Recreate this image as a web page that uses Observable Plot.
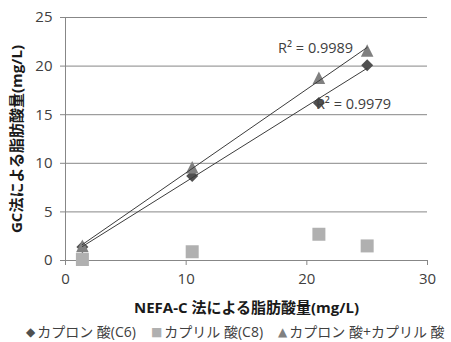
<!DOCTYPE html>
<html>
<head>
<meta charset="utf-8">
<script src="https://cdn.jsdelivr.net/npm/d3@7"></script>
<script src="https://cdn.jsdelivr.net/npm/@observablehq/plot@0.6"></script>
<style>
  body { margin: 0; background: #fff; font-family: "Open Sans", "Noto Sans CJK JP", sans-serif; overflow: hidden; }
  #chart { width: 451px; height: 322px; }
  #legend {
    width: 451px; height: 20px; line-height: 20px; overflow: hidden; white-space: nowrap;
    box-sizing: border-box; padding-left: 26px; font-size: 14px; color: #404040;
  }
  #legend span.item { margin-right: 15px; }
  #legend span.item:last-child { margin-right: 0; }
  #legend span.glyph { font-family: "DejaVu Sans", sans-serif; font-size: 12px; margin-right: 2px; vertical-align: 1px; }
</style>
</head>
<body>
<div id="chart"></div>
<div id="legend"></div>
<script>
// NEFA-C method result (x) against GC method result (y), in mg/L
const nefaC = [1.4, 10.5, 21, 25];
const gcC6 = [1.4, 8.7, 16.2, 20.1];
const gcC8 = [0.1, 0.9, 2.7, 1.5];
const gcC6C8 = [1.5, 9.6, 18.8, 21.6];

const seriesNames = ["カプロン 酸(C6)", "カプリル 酸(C8)", "カプロン 酸+カプリル 酸"];
const seriesGlyphs = ["◆", "■", "▲"];
const seriesColors = ["#505050", "#b0b0b0", "#808080"];
const r2C6 = "R² = 0.9979";
const r2C6C8 = "R² = 0.9989";

const xTicks = [0, 10, 20, 30];
const yTicks = [0, 5, 10, 15, 20, 25];
const xTitle = "NEFA-C 法による脂肪酸量(mg/L)";
const yTitle = "GC法による脂肪酸量(mg/L)";

const toRows = ys => nefaC.map((x, i) => ({x, y: ys[i]}));
const rowsC6 = toRows(gcC6);
const rowsC8 = toRows(gcC8);
const rowsC6C8 = toRows(gcC6C8);

// Excel-style marker shapes, centred on their bounding box
const half = size => Math.sqrt(size / Math.PI);
const diamondSym = {draw(ctx, size) { const r = half(size); ctx.moveTo(0, -r); ctx.lineTo(r, 0); ctx.lineTo(0, r); ctx.lineTo(-r, 0); ctx.closePath(); }};
const squareSym = {draw(ctx, size) { const r = half(size); ctx.rect(-r, -r, 2 * r, 2 * r); }};
const triangleSym = {draw(ctx, size) { const r = half(size); ctx.moveTo(0, -r); ctx.lineTo(r, r); ctx.lineTo(-r, r); ctx.closePath(); }};

const gridColor = "#878787";
const textColor = "#404040";
const trendColor = "#3c3c3c";

const chart = Plot.plot({
  width: 451,
  height: 322,
  marginLeft: 65,
  marginRight: 24,
  marginTop: 17,
  marginBottom: 62,
  style: {fontFamily: '"Open Sans", "Noto Sans CJK JP", sans-serif', fontSize: "15px", background: "#fff", color: textColor},
  x: {domain: [0, 30]},
  y: {domain: [0, 25]},
  marks: [
    Plot.gridY(yTicks.filter(t => t > 0), {stroke: gridColor, strokeOpacity: 1}),
    Plot.ruleY([0], {stroke: gridColor}),
    Plot.ruleX([0], {stroke: gridColor}),
    Plot.axisX({ticks: xTicks, tickSize: 5, tickPadding: 8, stroke: gridColor, fill: textColor, fontSize: 15, label: null}),
    Plot.axisY({ticks: yTicks, tickSize: 5, tickPadding: 8, stroke: gridColor, fill: textColor, fontSize: 15, label: null}),
    Plot.text([xTitle], {frameAnchor: "bottom", dy: 48, textAnchor: "middle", lineAnchor: "middle", fontWeight: "bold", fontSize: 15, fill: "#1a1a1a"}),
    Plot.text([yTitle], {frameAnchor: "left", dx: -48, rotate: -90, textAnchor: "middle", lineAnchor: "middle", fontWeight: "bold", fontSize: 15, fill: "#1a1a1a"}),
    Plot.dot(rowsC6, {x: "x", y: "y", symbol: diamondSym, r: 6, fill: seriesColors[0], stroke: "none"}),
    Plot.dot(rowsC8, {x: "x", y: "y", symbol: squareSym, r: 6.5, fill: seriesColors[1], stroke: "none"}),
    Plot.dot(rowsC6C8, {x: "x", y: "y", symbol: triangleSym, r: 6.3, fill: seriesColors[2], stroke: "none"}),
    Plot.linearRegressionY(rowsC6, {x: "x", y: "y", stroke: trendColor, strokeWidth: 1, ci: 0}),
    Plot.linearRegressionY(rowsC6C8, {x: "x", y: "y", stroke: trendColor, strokeWidth: 1, ci: 0}),
    Plot.text([rowsC6C8[3]], {x: "x", y: "y", text: () => r2C6C8, textAnchor: "end", dx: -14, dy: -2, fontSize: 14.5, fill: textColor}),
    Plot.text([rowsC6[2]], {x: "x", y: "y", text: () => r2C6, textAnchor: "start", dx: -3, dy: 1, fontSize: 14.5, fill: textColor})
  ]
});
document.getElementById("chart").append(chart);

const legend = document.getElementById("legend");
seriesNames.forEach((name, i) => {
  const item = document.createElement("span");
  item.className = "item";
  const glyph = document.createElement("span");
  glyph.className = "glyph";
  glyph.textContent = seriesGlyphs[i];
  glyph.style.color = seriesColors[i];
  item.append(glyph, document.createTextNode(name));
  legend.append(item);
});
</script>
</body>
</html>
